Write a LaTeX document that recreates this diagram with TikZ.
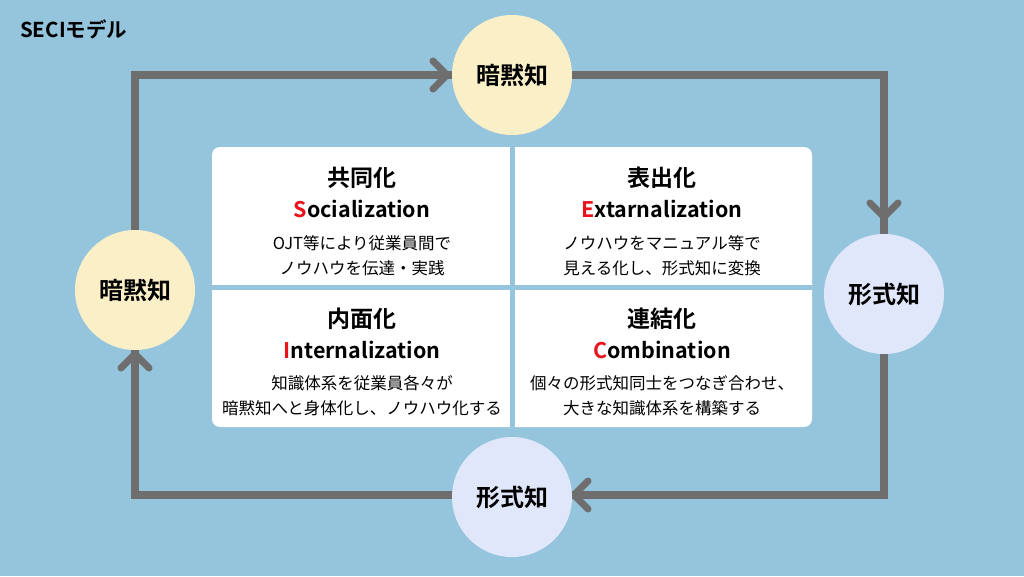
\documentclass[tikz,border=0pt]{standalone}
\usepackage{fontspec}
\setmainfont{Noto Sans CJK JP}
\newfontfamily\jpb{Noto Sans CJK JP Bold}
\definecolor{bg}{HTML}{94C5DC}
\definecolor{ln}{HTML}{6E6E6E}
\definecolor{cream}{HTML}{FBEFC8}
\definecolor{lav}{HTML}{E1E7FA}
\definecolor{rd}{HTML}{E8131B}
\begin{document}
\begin{tikzpicture}[x=1pt,y=-1pt,
  circ/.style={circle,minimum size=120pt,inner sep=0pt,font=\jpb\fontsize{24}{24}\selectfont},
  flow/.style={ln,line width=8pt},
  chev/.style={ln,line width=7pt,line cap=round,line join=round},
  ttl/.style={font=\jpb\fontsize{23}{23}\selectfont},
  sub/.style={font=\jpb\fontsize{21.5}{21.5}\selectfont},
  bd/.style={font=\fontsize{16.5}{25}\selectfont,align=center}]
\useasboundingbox (0,0) rectangle (1024,576);
\fill[bg] (0,0) rectangle (1024,576);
\node[anchor=west,inner sep=0pt,font=\jpb\fontsize{20.5}{20.5}\selectfont] (h) at (20,29) {SECIモデル};
\coordinate (tl) at (135,75); \coordinate (tr) at (884,75);
\coordinate (br) at (884,495); \coordinate (bl) at (135,495);
\draw[flow,line join=miter] (tl) -- (tr) -- (br) -- (bl) -- cycle;
\draw[chev] (433,61) -- (447,75) -- (433,89);
\draw[chev] (870,203) -- (884,217) -- (898,203);
\draw[chev] (588,481) -- (574,495) -- (588,509);
\draw[chev] (121,368) -- (135,354) -- (149,368);
\node[circ,fill=cream] (ct) at (512,75) {暗黙知};
\node[circ,fill=cream] (cl) at (135,290) {暗黙知};
\node[circ,fill=lav] (cr) at (884,294) {形式知};
\node[circ,fill=lav] (cb) at (512,497) {形式知};
\fill[white,rounded corners=8pt] (212,147) rectangle (812,427);
\draw[bg,line width=5pt] (512,147) -- (512,427);
\draw[bg,line width=5pt] (212,287) -- (812,287);
\node[ttl] (t1) at (362,178) {共同化};
\node[sub] (s1) at (362,209) {\textcolor{rd}{S}ocialization};
\node[bd] (b1) at (362,256) {OJT等により従業員間で\\ノウハウを伝達・実践};
\node[ttl] (t2) at (662,178) {表出化};
\node[sub] (s2) at (662,209) {\textcolor{rd}{E}xtarnalization};
\node[bd] (b2) at (662,256) {ノウハウをマニュアル等で\\見える化し、形式知に変換};
\node[ttl] (t3) at (362,319) {内面化};
\node[sub] (s3) at (362,350) {\textcolor{rd}{I}nternalization};
\node[bd] (b3) at (362,396) {知識体系を従業員各々が\\暗黙知へと身体化し、ノウハウ化する};
\node[ttl] (t4) at (662,319) {連結化};
\node[sub] (s4) at (662,350) {\textcolor{rd}{C}ombination};
\node[bd] (b4) at (662,396) {個々の形式知同士をつなぎ合わせ、\\大きな知識体系を構築する};
\end{tikzpicture}
\end{document}
